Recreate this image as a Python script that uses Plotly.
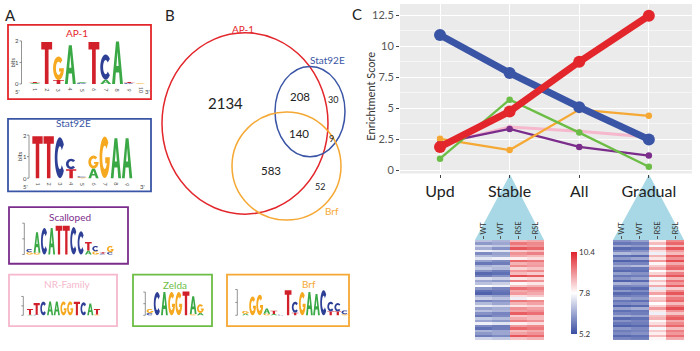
import math
import plotly.graph_objects as go

# ---------------- data ----------------
categories = ["Upd", "Stable", "All", "Gradual"]
ap1_scores = [1.9, 4.75, 8.75, 12.45]
stat92e_scores = [10.9, 7.85, 5.1, 2.5]
zelda_scores = [0.95, 5.7, 3.05, 0.3]
brf_scores = [2.55, 1.65, 4.9, 4.4]
scalloped_scores = [2.2, 3.35, 1.9, 1.2]
nr_scores = [2.1, 3.5, 3.15, 2.7]
y_ticks = [0, 2.5, 5, 7.5, 10, 12.5]
y_tick_labels = ["0", "2.5", "5", "7.5", "10", "12.5"]

heat_columns = ["WT", "WT", "RSE", "RSL"]
stable_wt1 = [6.9, 6.3, 7.2, 6.6, 7.6, 6.1, 6.8, 7.4, 6.4, 5.8, 6.7, 7.0, 6.2, 5.6, 5.9, 7.3, 6.5, 6.9, 7.8, 6.3,
              5.7, 5.5, 6.6, 7.1, 6.0, 6.8, 7.5, 6.4, 6.9, 6.2, 5.8, 7.0, 6.5, 7.6, 6.1, 5.7, 6.7, 6.3, 5.9, 7.2]
stable_wt2 = [6.7, 6.5, 7.0, 6.2, 7.4, 6.4, 6.6, 7.6, 6.1, 5.9, 6.9, 6.8, 5.9, 5.7, 6.2, 7.1, 6.3, 7.1, 7.6, 6.0,
              5.8, 5.7, 6.4, 6.9, 6.2, 6.5, 7.3, 6.6, 6.7, 6.0, 6.1, 6.8, 6.3, 7.4, 5.9, 5.9, 6.5, 6.5, 6.1, 7.0]
stable_rse = [8.6, 9.4, 8.9, 9.8, 8.4, 9.1, 8.8, 8.0, 9.6, 8.7, 9.2, 8.3, 9.0, 8.6, 9.9, 8.1, 9.3, 7.9, 8.5, 9.5,
              8.8, 9.0, 8.2, 7.6, 9.4, 8.7, 8.1, 9.1, 8.9, 9.7, 8.4, 8.8, 9.3, 8.0, 9.0, 9.6, 8.6, 8.9, 9.8, 8.5]
stable_rsl = [8.8, 9.2, 9.1, 9.6, 8.6, 9.3, 8.6, 8.2, 9.4, 8.9, 9.0, 8.5, 9.2, 8.4, 9.7, 8.3, 9.1, 8.1, 8.7, 9.3,
              9.0, 8.8, 8.4, 7.8, 9.2, 8.9, 8.3, 8.9, 9.1, 9.5, 8.6, 8.6, 9.1, 8.2, 9.2, 9.4, 8.8, 9.1, 9.6, 8.7]
grad_wt1 = [6.2, 5.8, 6.5, 5.6, 6.0, 6.8, 5.7, 6.3, 5.5, 6.1, 6.6, 5.9, 5.6, 6.4, 5.8, 6.2, 5.5, 6.7, 6.0, 5.7,
            6.3, 5.6, 5.9, 6.5, 5.8, 6.1, 5.5, 6.4, 5.7, 6.0, 6.6, 5.6, 6.2, 5.8, 5.5, 6.3, 5.9, 6.1, 5.6, 6.0]
grad_wt2 = [6.4, 5.9, 6.3, 5.7, 6.2, 6.6, 5.6, 6.5, 5.6, 6.0, 6.8, 5.8, 5.7, 6.2, 5.9, 6.4, 5.6, 6.5, 6.1, 5.6,
            6.1, 5.7, 6.0, 6.3, 5.7, 6.2, 5.6, 6.6, 5.8, 5.9, 6.4, 5.7, 6.0, 5.9, 5.6, 6.1, 6.0, 6.2, 5.7, 5.9]
grad_rse = [8.0, 8.6, 7.7, 8.9, 8.2, 7.6, 8.7, 8.1, 9.0, 7.9, 8.4, 8.8, 7.8, 8.3, 9.1, 7.7, 8.5, 8.0, 8.8, 7.5,
            8.2, 8.9, 7.9, 8.4, 8.6, 7.8, 8.3, 9.0, 8.1, 7.6, 8.5, 8.7, 7.9, 8.2, 8.8, 7.7, 8.4, 8.0, 8.6, 7.9]
grad_rsl = [9.2, 9.6, 8.7, 9.8, 9.0, 8.6, 9.7, 9.1, 9.9, 8.8, 9.4, 9.6, 8.5, 9.3, 9.8, 8.7, 9.5, 9.0, 9.7, 8.4,
            9.2, 9.8, 8.9, 9.4, 9.6, 8.6, 9.3, 9.9, 9.1, 8.5, 9.4, 9.7, 8.8, 9.2, 9.6, 8.6, 9.3, 9.0, 9.5, 8.8]
scale_ticks = [5.2, 7.8, 10.4]

venn_labels = ["AP-1", "Stat92E", "Brf"]
venn_counts = ["2134", "208", "30", "140", "9", "583", "52"]

# sequence logos: per position, letters bottom->top with height in bits
ap1_logo = [[("A", 0.04), ("T", 0.05)], [("T", 1.95)], [("T", 0.18), ("G", 1.1)], [("A", 1.8)],
            [("C", 0.04), ("A", 0.04)], [("T", 1.95)], [("A", 0.2), ("C", 1.17)], [("A", 1.98)],
            [("C", 0.04), ("T", 0.05)], [("G", 0.03)]]
stat_logo = [[("T", 1.95)], [("T", 1.95)], [("C", 1.9)], [("T", 0.42), ("C", 0.48)],
             [("G", 0.04), ("C", 0.04)], [("A", 0.45), ("G", 0.6)], [("G", 1.94)], [("A", 1.85)], [("A", 1.85)]]
scalloped_logo = [[("G", 0.15), ("C", 0.2)], [("G", 0.12), ("A", 1.3)], [("C", 1.69)], [("A", 1.69)],
                  [("T", 1.84)], [("T", 1.84)], [("C", 1.75)], [("C", 1.48)], [("A", 0.25), ("T", 0.55)],
                  [("G", 0.2), ("C", 0.35)], [("C", 0.06), ("T", 0.08)], [("C", 0.15), ("G", 0.4)]]
nr_logo = [[("A", 0.06), ("T", 0.6)], [("C", 0.05), ("T", 1.25)], [("C", 1.45)], [("A", 1.47)], [("A", 1.47)],
           [("G", 1.47)], [("G", 1.47)], [("T", 1.45)], [("C", 1.38)], [("A", 1.25)], [("G", 0.08), ("T", 0.6)]]
zelda_logo = [[("C", 0.2), ("G", 0.35)], [("C", 2.0)], [("A", 2.0)], [("G", 2.0)], [("G", 2.0)], [("T", 2.05)],
              [("G", 0.1), ("A", 1.55)], [("A", 0.2), ("G", 0.75)]]
brf_logo = [[("A", 0.12), ("G", 0.22)], [("G", 1.46)], [("G", 1.6)], [("G", 0.12), ("A", 0.4)],
            [("A", 0.1), ("T", 0.25)], [("C", 0.05)], [("T", 1.95)], [("T", 0.2), ("C", 0.85)], [("G", 1.8)],
            [("A", 1.8)], [("A", 1.65)], [("C", 1.95)], [("T", 0.3), ("C", 0.75)], [("T", 0.3), ("C", 0.65)],
            [("G", 0.08), ("C", 0.3)]]

# ---------------- styling ----------------
W, H = 700, 351
FONT = "Lato"
RED = "#e3262b"
BLUE = "#3a55a5"
GREEN = "#6cbd45"
ORANGE = "#f5a833"
PURPLE = "#7b2d8b"
PINK = "#f5b8cc"
LETTER_COL = {"A": "#3aa845", "C": "#2e3f96", "G": "#f6a91f", "T": "#d2202a"}


def PX(x):
    return x / W


def PY(y):
    return 1 - y / H


def arc(cx, cy, rx, ry, a0, a1, n=22):
    pts = []
    for i in range(n + 1):
        t = math.radians(a0 + (a1 - a0) * i / n)
        pts.append((cx + rx * math.cos(t), cy + ry * math.sin(t)))
    return pts


GLYPHS = {
    "T": [[(0, 1), (1, 1), (1, 0.82), (0.67, 0.82), (0.67, 0), (0.33, 0), (0.33, 0.82), (0, 0.82)]],
    "A": [[(0, 0), (0.36, 1), (0.64, 1), (1, 0), (0.73, 0), (0.65, 0.27), (0.35, 0.27), (0.27, 0)],
          [(0.40, 0.42), (0.60, 0.42), (0.5, 0.76)]],
    "C": [arc(0.5, 0.5, 0.5, 0.5, 40, 320) + arc(0.5, 0.5, 0.24, 0.28, 320, 40)],
    "G": [arc(0.5, 0.5, 0.5, 0.5, 45, 360) + [(0.55, 0.5), (0.55, 0.36)] + arc(0.5, 0.5, 0.24, 0.28, 330, 45)],
}


def glyph_path(letter, x0, yb, w, h):
    parts = []
    for poly in GLYPHS[letter]:
        pts = [f"{PX(x0 + u * w):.5f},{PY(yb - v * h):.5f}" for u, v in poly]
        parts.append("M" + " L".join(pts) + " Z")
    return " ".join(parts)


shapes = []
annotations = []


def add_text(x, y, text, size, color="#222", angle=0, **kw):
    annotations.append(dict(x=PX(x), y=PY(y), xref="paper", yref="paper", text=text, showarrow=False,
                            font=dict(family=FONT, size=size, color=color), textangle=angle,
                            xanchor=kw.get("xanchor", "center"), yanchor=kw.get("yanchor", "middle")))


def add_logo(logo, axis_x, base_y, ppb, pos1, spacing, wfrac=0.92, labels=False, end_x=None):
    for i, col in enumerate(logo):
        cx = pos1 + i * spacing
        w = spacing * wfrac
        y = base_y
        for letter, bits in col:
            h = bits * ppb
            shapes.append(dict(type="path", path=glyph_path(letter, cx - w / 2, y, w, h), xref="paper",
                               yref="paper", fillcolor=LETTER_COL[letter], line=dict(width=0)))
            y -= h
        if labels:
            add_text(cx, base_y + 6, str(i + 1), 5.5, "#555", angle=90)
    # axis
    lc = "#666"
    shapes.append(dict(type="line", xref="paper", yref="paper", x0=PX(axis_x), x1=PX(axis_x),
                       y0=PY(base_y), y1=PY(base_y - 2 * ppb), line=dict(color=lc, width=0.7)))
    for b in range(3):
        shapes.append(dict(type="line", xref="paper", yref="paper", x0=PX(axis_x - 2), x1=PX(axis_x),
                           y0=PY(base_y - b * ppb), y1=PY(base_y - b * ppb), line=dict(color=lc, width=0.7)))
        if labels:
            add_text(axis_x - 4.5, base_y - b * ppb, str(b), 6, "#444")
    if labels:
        add_text(axis_x - 9.5, base_y - ppb, "bits", 6, "#444", angle=-90)
        add_text(axis_x - 4, base_y + 8, "5'", 6, "#444")
        add_text(end_x, base_y + 8, "3'", 6, "#444")


def add_box(x0, y0, x1, y1, color, title, tx, ty):
    shapes.append(dict(type="rect", xref="paper", yref="paper", x0=PX(x0), x1=PX(x1), y0=PY(y1), y1=PY(y0),
                       line=dict(color=color, width=1.8)))
    add_text(tx, ty, title, 10, color)


# ---------------- panel A: motif boxes & logos ----------------
add_box(8, 25, 151, 100, RED, "AP-1", 77, 33)
add_logo(ap1_logo, 21.5, 84.7, 21.7, 34.9, 11.8, labels=True, end_x=147)
add_box(8, 120, 151, 193, BLUE, "Stat92E", 73, 124)
add_logo(stat_logo, 29, 179.7, 21.7, 37.5, 11.2, labels=True, end_x=142)
add_box(9, 209, 128, 266, PURPLE, "Scalloped", 70, 219)
add_logo(scalloped_logo, 24.3, 256.7, 15.8, 29.7, 7.33)
add_box(9, 277, 117, 329, PINK, "NR-Family", 67, 286)
add_logo(nr_logo, 23.3, 318, 9.5, 30.0, 6.7)
add_box(133, 277, 212, 329, GREEN, "Zelda", 175, 287)
add_logo(zelda_logo, 145.3, 318, 11.7, 150.0, 7.2, wfrac=0.95)
add_box(227, 277, 349, 329, ORANGE, "Brf", 309, 286)
add_logo(brf_logo, 237.3, 318, 13, 245.5, 7.1, wfrac=0.95)

# ---------------- panel B: Venn ----------------
for (cx, cy, rx, ry, col) in [(245, 124.5, 83, 91.5, RED), (310, 112.5, 35, 45.5, BLUE), (286.5, 167.5, 54.5, 54.5, ORANGE)]:
    shapes.append(dict(type="circle", xref="paper", yref="paper", x0=PX(cx - rx), x1=PX(cx + rx),
                       y0=PY(cy + ry), y1=PY(cy - ry), line=dict(color=col, width=1.5)))
add_text(243, 29, venn_labels[0], 10, RED)
add_text(327, 61, venn_labels[1], 10, BLUE)
add_text(332, 213, venn_labels[2], 10, ORANGE)
for (x, y, s), t in zip([(225, 104, 15), (300, 97, 11.5), (333, 100, 9), (299, 135, 11.5), (331, 140, 9),
                         (271, 172, 11.5), (320, 188, 9)], venn_counts):
    add_text(x, y, t, s, "#222")

# panel letters
add_text(10, 15, "A", 15, "#222")
add_text(170, 15, "B", 15, "#222")
add_text(357, 14, "C", 15, "#222")

# ---------------- panel C ----------------
# triangles linking ticks to heatmaps
for apex, l, r in [(510, 475, 544), (649, 613, 684)]:
    shapes.append(dict(type="path", xref="paper", yref="paper", layer="below",
                       path=f"M{PX(apex):.5f},{PY(176):.5f} L{PX(l):.5f},{PY(242):.5f} L{PX(r):.5f},{PY(242):.5f} Z",
                       fillcolor="#a8d8e5", line=dict(width=0)))

add_text(370.5, 97, "Enrichtment Score", 11, "#333", angle=-90)

fig = go.Figure()
xs = [1, 2, 3, 4]
series = [
    ("NR-Family", nr_scores, PINK, 3, 5),
    ("Scalloped", scalloped_scores, PURPLE, 2.3, 6.5),
    ("Brf", brf_scores, ORANGE, 2.3, 6.5),
    ("Zelda", zelda_scores, GREEN, 2.3, 6.5),
    ("Stat92E", stat92e_scores, BLUE, 7, 12),
    ("AP-1", ap1_scores, RED, 7, 12),
]
for name, vals, col, lw, ms in series:
    fig.add_trace(go.Scatter(x=xs, y=vals, name=name, mode="lines+markers", line=dict(color=col, width=lw),
                             marker=dict(color=col, size=ms), showlegend=False, xaxis="x", yaxis="y"))

colorscale = [[0, "#3a4ea2"], [0.5, "#ffffff"], [1, "#e0232a"]]
stable_z = [[a, b, c, d] for a, b, c, d in zip(stable_wt1, stable_wt2, stable_rse, stable_rsl)]
grad_z = [[a, b, c, d] for a, b, c, d in zip(grad_wt1, grad_wt2, grad_rse, grad_rsl)]
fig.add_trace(go.Heatmap(z=stable_z, x=[0, 1, 2, 3], y=list(range(len(stable_z))), colorscale=colorscale,
                         zmin=5.2, zmax=10.4, showscale=False, xaxis="x2", yaxis="y2"))
fig.add_trace(go.Heatmap(z=grad_z, x=[0, 1, 2, 3], y=list(range(len(grad_z))), colorscale=colorscale,
                         zmin=5.2, zmax=10.4, xaxis="x3", yaxis="y3",
                         colorbar=dict(x=PX(571), xanchor="left", y=PY(295.5), yanchor="middle",
                                       len=83 / H, lenmode="fraction", thickness=6, thicknessmode="pixels",
                                       outlinewidth=0, tickvals=scale_ticks,
                                       ticktext=[str(v) for v in scale_ticks], ticks="", xpad=0, ypad=0,
                                       tickfont=dict(family=FONT, size=8, color="#333"))))

heat_x = dict(tickvals=[0, 1, 2, 3], ticktext=heat_columns, side="top", tickangle=-90, ticks="outside",
              ticklen=3, tickcolor="#555", tickfont=dict(family=FONT, size=7.5, color="#333"),
              showgrid=False, zeroline=False, showline=False, range=[-0.5, 3.5], fixedrange=True)
heat_y = dict(autorange="reversed", showticklabels=False, showgrid=False, zeroline=False, ticks="",
              domain=[PY(343), PY(242)])

fig.update_layout(
    width=W, height=H, margin=dict(l=0, r=0, t=0, b=0), paper_bgcolor="white", plot_bgcolor="#ebebeb",
    font=dict(family=FONT),
    xaxis=dict(domain=[PX(400), PX(692)], range=[0.425, 4.62], tickvals=xs, ticktext=categories,
               showgrid=True, gridcolor="white", gridwidth=1.3, zeroline=False, showline=False,
               ticks="outside", ticklen=3, tickcolor="#444", tickfont=dict(family=FONT, size=16, color="#222"),
               anchor="y"),
    yaxis=dict(domain=[PY(175), PY(4)], range=[-0.24, 13.4], tickvals=y_ticks, ticktext=y_tick_labels,
               showgrid=True, gridcolor="white", gridwidth=1.3, zeroline=False, showline=False,
               ticks="outside", ticklen=3, tickcolor="#444", tickfont=dict(family=FONT, size=11, color="#555"),
               minor=dict(tickvals=[1.25, 3.75, 6.25, 8.75, 11.25], showgrid=True, gridcolor="#f6f6f6",
                          gridwidth=0.6, ticks=""),
               anchor="x"),
    xaxis2=dict(domain=[PX(475), PX(544)], anchor="y2", **heat_x),
    yaxis2=dict(anchor="x2", **heat_y),
    xaxis3=dict(domain=[PX(613), PX(684)], anchor="y3", **heat_x),
    yaxis3=dict(anchor="x3", **heat_y),
    shapes=shapes, annotations=annotations,
)

fig.write_html("out.html")
